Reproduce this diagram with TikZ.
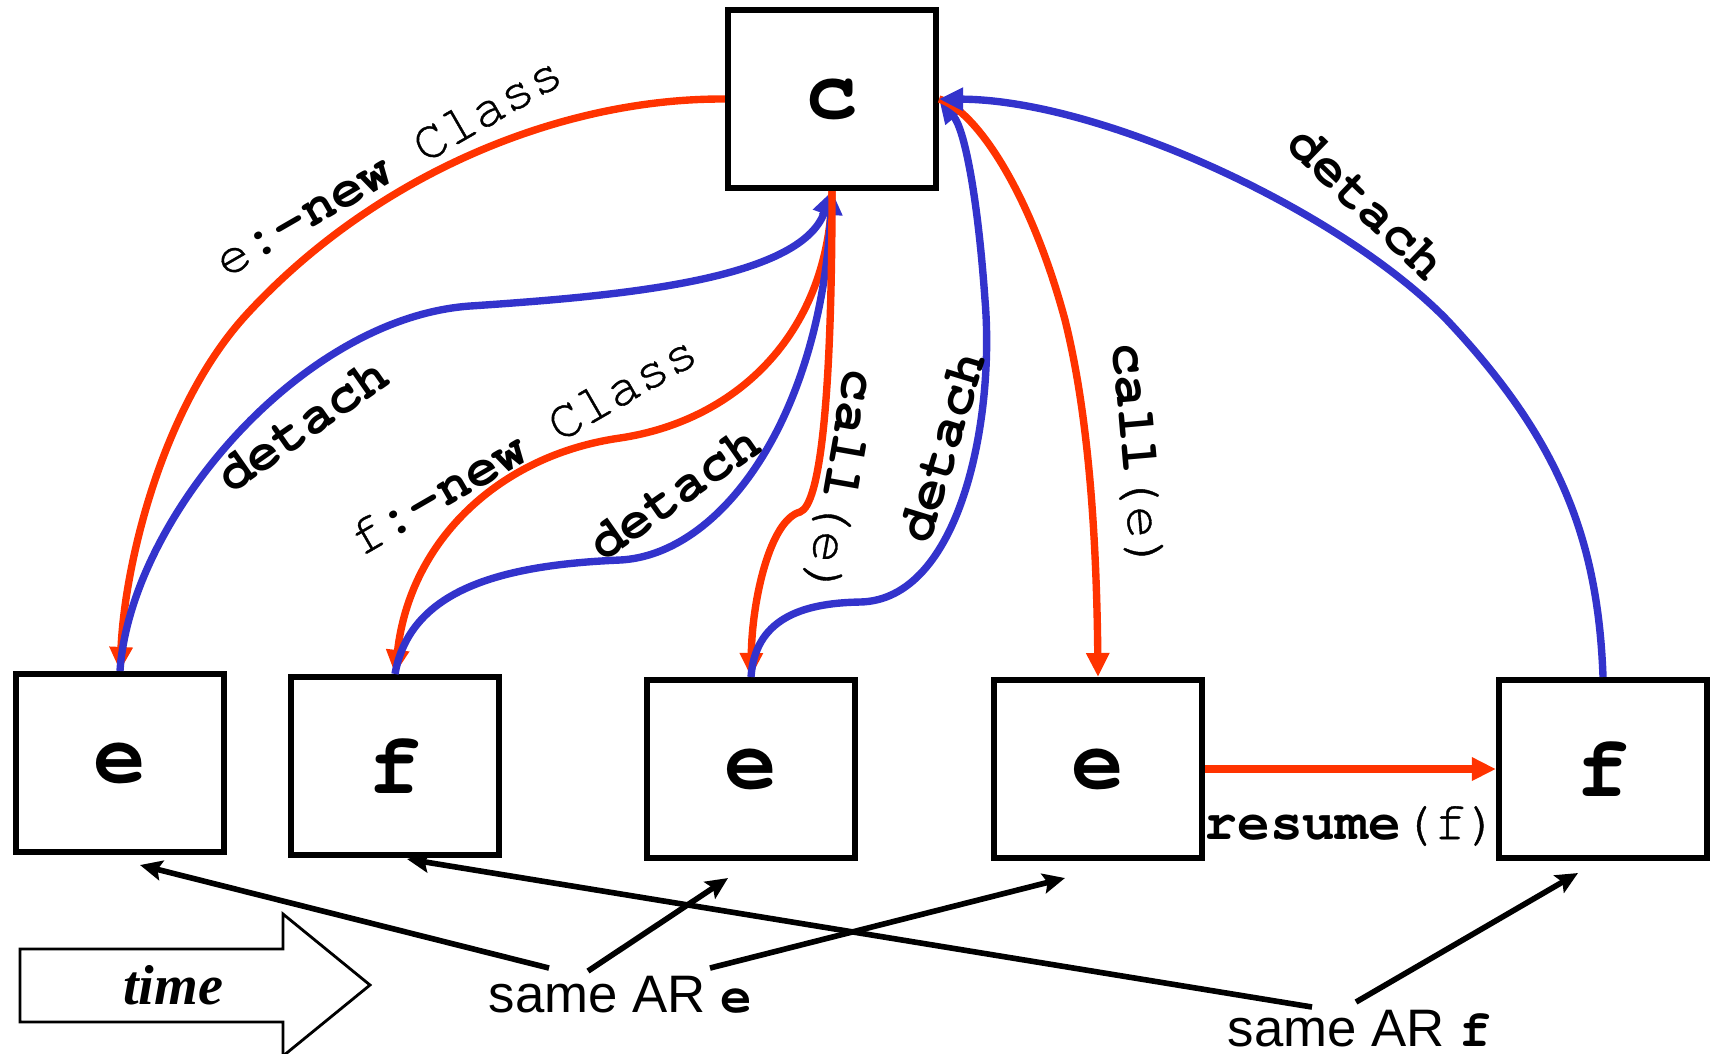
\documentclass[tikz,border=0pt]{standalone}
\usepackage{fontspec}
\setmainfont{Liberation Serif}
\newfontfamily\cmono{TeX Gyre Cursor}[UprightFeatures={FakeBold=0.7}]
\newfontfamily\csans{Liberation Sans}
\usetikzlibrary{arrows.meta,calc}
\definecolor{callred}{RGB}{255,51,0}
\definecolor{detblue}{RGB}{51,51,204}

\begin{document}
\begin{tikzpicture}[x=0.01cm,y=-0.01cm,
  frame/.style={draw=black,line width=1.7pt,minimum width=2.08cm,minimum height=1.78cm,
    inner sep=0pt,font=\cmono\bfseries\fontsize{25}{25}\selectfont},
  lbl/.style={inner sep=0pt,font=\cmono\fontsize{15.5}{15.5}\selectfont},
  redarc/.style={draw=callred,line width=2.1pt,-{Triangle[length=0.24cm,width=0.22cm]}},
  bluearc/.style={draw=detblue,line width=2.1pt,-{Triangle[length=0.24cm,width=0.22cm]}},
  pointer/.style={draw=black,line width=1.6pt,-{Stealth[length=0.22cm,width=0.2cm,inset=0.04cm]}},
  arlabel/.style={inner sep=0pt,anchor=base west,font=\csans\fontsize{15}{15}\selectfont},
]
\useasboundingbox (0,0) rectangle (1719,1053);

% activation records
\node[frame] (c)  at (832,99)   {c};
\node[frame] (e1) at (120,763)  {e};
\node[frame] (f1) at (395,766)  {f};
\node[frame] (e2) at (751,769)  {e};
\node[frame] (e3) at (1098,769) {e};
\node[frame] (f2) at (1603,769) {f};

% creation, detach and call transfers
\draw[redarc] (c.west) .. controls (560,98) and (375,175) .. (247,314)
  .. controls (164,404) and (125,560) .. (e1.north);
\draw[bluearc] (e1.north) .. controls (130,520) and (300,318) .. (470,306)
  .. controls (620,296) and (800,280) .. (c.south);
\draw[redarc] (c.south) .. controls (830,330) and (740,420) .. (620,438)
  .. controls (500,455) and (410,540) .. (f1.north);
\draw[bluearc] (f1.north) .. controls (410,590) and (500,565) .. (620,560)
  .. controls (720,555) and (820,420) .. (c.south);
\draw[redarc] (c.south) .. controls (832,400) and (820,505) .. (800,512)
  .. controls (770,520) and (752,600) .. (e2.north);
\draw[bluearc] (e2.north) .. controls (755,620) and (800,603) .. (860,602)
  .. controls (960,600) and (995,420) .. (985,300)
  .. controls (978,200) and (965,130) .. (c.east);
\draw[redarc] (c.east) .. controls (975,110) and (1030,190) .. (1065,320)
  .. controls (1080,380) and (1096,480) .. (e3.north);
\draw[bluearc] (f2.north) .. controls (1598,540) and (1560,440) .. (1447,320)
  .. controls (1340,210) and (1100,100) .. (c.east);
\draw[redarc,line width=2.4pt] (e3.east) -- (f2.west);

% transfer labels
\node[lbl,rotate=30]  (lnewe)  at (388,166)  {e\textbf{:-new} Class};
\node[lbl,rotate=35]  (ldet1)  at (302,425)  {\textbf{detach}};
\node[lbl,rotate=30]  (lnewf)  at (523,445)  {f\textbf{:-new} Class};
\node[lbl,rotate=35]  (ldet2)  at (674,493)  {\textbf{detach}};
\node[lbl,rotate=-100] (lcall1) at (839,483) {\textbf{call}(e)};
\node[lbl,rotate=73]  (ldet3)  at (942,447)  {\textbf{detach}};
\node[lbl,rotate=-85] (lcall2) at (1136,457) {\textbf{call}(e)};
\node[lbl,rotate=-44] (ldet4)  at (1367,203) {\textbf{detach}};
\node[lbl]            (lres)   at (1352,826) {\textbf{resume}(f)};

% time direction
\draw[line width=0.8pt] (20,949) -- (283,949) -- (283,914) -- (370,985)
  -- (283,1056) -- (283,1022) -- (20,1022) -- cycle;
\node[font=\bfseries\itshape\fontsize{16}{16}\selectfont] (tlabel) at (173,985) {time};

% same activation record markers
\node[arlabel] (sare) at (488,1012) {same AR {\cmono\bfseries e}};
\node[arlabel] (sarf) at (1227,1046) {same AR {\cmono\bfseries f}};

\coordinate (pe1) at (140,865);
\coordinate (pe2) at (728,878);
\coordinate (pe3) at (1065,878);
\coordinate (pf1) at (407,859);
\coordinate (pf2) at (1578,873);

\draw[pointer] ($(sare.north west)+(61,-7)$)  -- (pe1);
\draw[pointer] ($(sare.north west)+(100,-4)$) -- (pe2);
\draw[pointer] ($(sare.north west)+(222,-7)$) -- (pe3);
\draw[pointer] ($(sarf.north west)+(85,-2)$)  -- (pf1);
\draw[pointer] ($(sarf.north west)+(129,-7)$) -- (pf2);
\end{tikzpicture}
\end{document}
